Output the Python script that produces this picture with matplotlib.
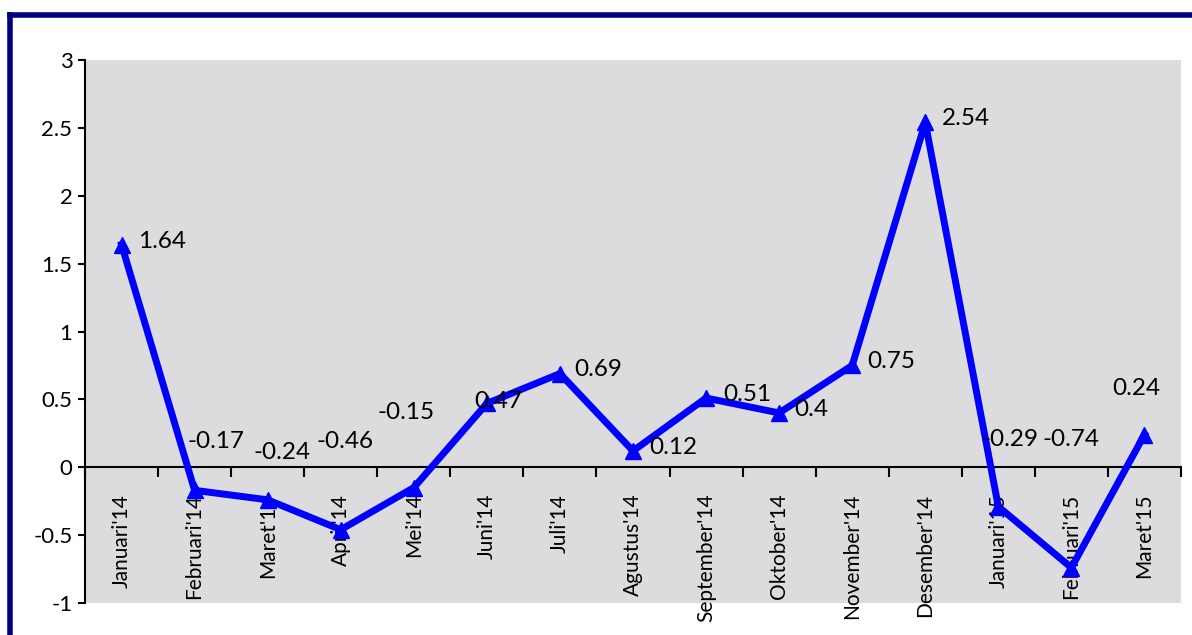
import matplotlib
matplotlib.use("Agg")
import matplotlib.pyplot as plt
from matplotlib.lines import Line2D
import numpy as np

plt.rcParams['font.family'] = ['Lato', 'DejaVu Sans']

months = ["Januari'14", "Februari'14", "Maret'14", "April'14", "Mei'14", "Juni'14",
          "Juli'14", "Agustus'14", "September'14", "Oktober'14", "November'14",
          "Desember'14", "Januari'15", "Februari'15", "Maret'15"]
values = [1.64, -0.17, -0.24, -0.46, -0.15, 0.47, 0.69, 0.12, 0.51, 0.4, 0.75,
          2.54, -0.29, -0.74, 0.24]
value_labels = ["1.64", "-0.17", "-0.24", "-0.46", "-0.15", "0.47", "0.69", "0.12",
                "0.51", "0.4", "0.75", "2.54", "-0.29", "-0.74", "0.24"]
y_ticks = [-1, -0.5, 0, 0.5, 1, 1.5, 2, 2.5, 3]
y_tick_labels = ["-1", "-0.5", "0", "0.5", "1", "1.5", "2", "2.5", "3"]

# label offsets (pixels, text left edge / vertical centre relative to point)
label_dx = [17, -7, -14, -24, -36, -13, 14, 16, 17, 15, 15, 17, -17, -29, -32]
label_dy = [3, 49, 47, 88, 75, 2, 4, 3, 4, 3, 4, 4, 67, 128, 46]

fig = plt.figure(figsize=(11.92, 6.35), dpi=100)
fig.patch.set_facecolor('white')

# navy frame (top and left visible)
fig.add_artist(Line2D([10/1192, 10/1192], [0, 1 - 14.5/635], color='#000080', lw=4,
                      transform=fig.transFigure, solid_capstyle='projecting'))
fig.add_artist(Line2D([10/1192, 1], [1 - 14.5/635, 1 - 14.5/635], color='#000080', lw=4,
                      transform=fig.transFigure, solid_capstyle='projecting'))

ax = fig.add_axes([85/1192, 1 - 603/635, (1181 - 85)/1192, (603 - 60)/635])
ax.set_facecolor('#dcdcde')

x = np.arange(len(months))
ax.plot(x, values, color='#0000ff', lw=5, marker='^', markersize=12,
        markerfacecolor='#0000ff', markeredgecolor='#0000ff', zorder=3, clip_on=False)

for xi, v, t, dx, dy in zip(x, values, value_labels, label_dx, label_dy):
    ax.annotate(t, xy=(xi, v), xytext=(dx, dy), textcoords='offset pixels',
                ha='left', va='center', fontsize=17.5, color='black', zorder=4)

ax.set_xlim(-0.5, len(months) - 0.5)
ax.set_ylim(-1, 3)

for s in ['top', 'right']:
    ax.spines[s].set_visible(False)
ax.spines['bottom'].set_position(('data', 0))
ax.spines['bottom'].set_linewidth(1.5)
ax.spines['left'].set_linewidth(1.5)

ax.set_yticks(y_ticks)
ax.set_yticklabels(y_tick_labels, fontsize=16)
ax.tick_params(axis='y', direction='out', length=5, width=1.5, pad=4)

ax.set_xticks(x)
ax.set_xticklabels(months, rotation=90, ha='center', va='top', fontsize=15)
ax.set_xticks(np.arange(len(months) + 1) - 0.5, minor=True)
ax.tick_params(axis='x', which='major', length=0, pad=19)
ax.tick_params(axis='x', which='minor', direction='out', length=7, width=1.5)

fig.savefig('out.png', dpi=100, facecolor='white')
